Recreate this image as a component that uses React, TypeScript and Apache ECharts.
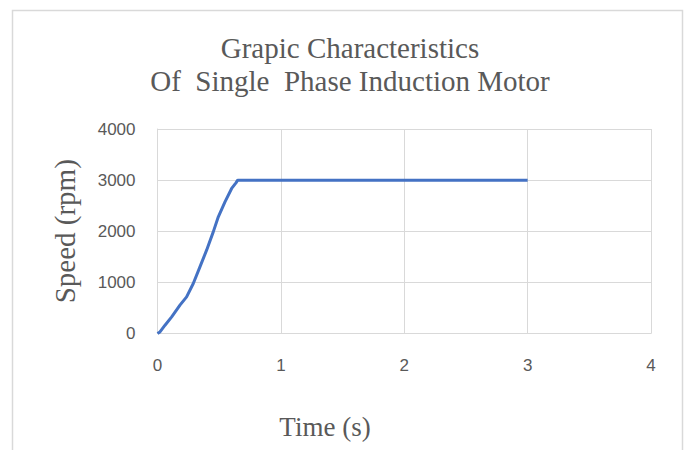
import React, { useEffect, useRef } from "react";
import * as echarts from "echarts";

const timeValues = [0, 0.02, 0.061, 0.115, 0.182, 0.236, 0.29, 0.344, 0.398, 0.452, 0.493, 0.547, 0.601, 0.636, 0.65, 1, 2, 3];
const speedValues = [0, 31, 162, 325, 554, 716, 978, 1303, 1630, 1988, 2282, 2575, 2837, 2947, 3000, 3000, 3000, 3000];
const titleLines = ["Grapic Characteristics", "Of  Single  Phase Induction Motor"];
const xTitle = "Time (s)";
const yTitle = "Speed (rpm)";

export default function App() {
  const ref = useRef<HTMLDivElement>(null);
  useEffect(() => {
    if (!ref.current) return;
    const chart = echarts.init(ref.current, null, { renderer: "svg" });
    const data = timeValues.map((t, i) => [t, speedValues[i]]);
    chart.setOption({
      animation: false,
      backgroundColor: "#ffffff",
      grid: { left: 157.5, right: 37, top: 129, bottom: 116.5, containLabel: false },
      xAxis: {
        type: "value",
        min: 0,
        max: 4,
        interval: 1,
        axisLine: { show: true, lineStyle: { color: "#d9d9d9", width: 1 } },
        axisTick: { show: false },
        splitLine: { show: true, lineStyle: { color: "#d9d9d9", width: 1 } },
        axisLabel: { color: "#595959", fontSize: 17, fontFamily: "Liberation Sans", margin: 23, formatter: (v: number) => String(v) },
      },
      yAxis: {
        type: "value",
        min: 0,
        max: 4000,
        interval: 1000,
        axisLine: { show: true, lineStyle: { color: "#d9d9d9", width: 1 } },
        axisTick: { show: false },
        splitLine: { show: true, lineStyle: { color: "#d9d9d9", width: 1 } },
        axisLabel: { color: "#595959", fontSize: 17, fontFamily: "Liberation Sans", margin: 22, formatter: (v: number) => String(v) },
        name: yTitle,
        nameLocation: "middle",
        nameGap: 78,
        nameRotate: 90,
        nameTextStyle: { color: "#595959", fontSize: 29, fontFamily: "Liberation Serif" },
      },
      series: [
        {
          type: "line",
          data,
          showSymbol: false,
          symbol: "none",
          lineStyle: { color: "#4472c4", width: 3 },
        },
      ],
      graphic: [
        {
          type: "rect",
          shape: { x: 12.5, y: 10.5, width: 670, height: 460 },
          style: { fill: "none", stroke: "#d9d9d9", lineWidth: 1.5 },
          z: -1,
        },
        {
          type: "text",
          x: 350,
          y: 48,
          style: { text: titleLines[0], fill: "#595959", font: "29px 'Liberation Serif'", textAlign: "center", textVerticalAlign: "middle" },
        },
        {
          type: "text",
          x: 350,
          y: 81,
          style: { text: titleLines[1], fill: "#595959", font: "29px 'Liberation Serif'", textAlign: "center", textVerticalAlign: "middle" },
        },
        {
          type: "text",
          x: 325,
          y: 427,
          style: { text: xTitle, fill: "#595959", font: "27px 'Liberation Serif'", textAlign: "center", textVerticalAlign: "middle" },
        },
      ],
    });
    return () => chart.dispose();
  }, []);
  return <div ref={ref} style={{ position: "fixed", left: 0, top: 0, width: 688, height: 450 }} />;
}
